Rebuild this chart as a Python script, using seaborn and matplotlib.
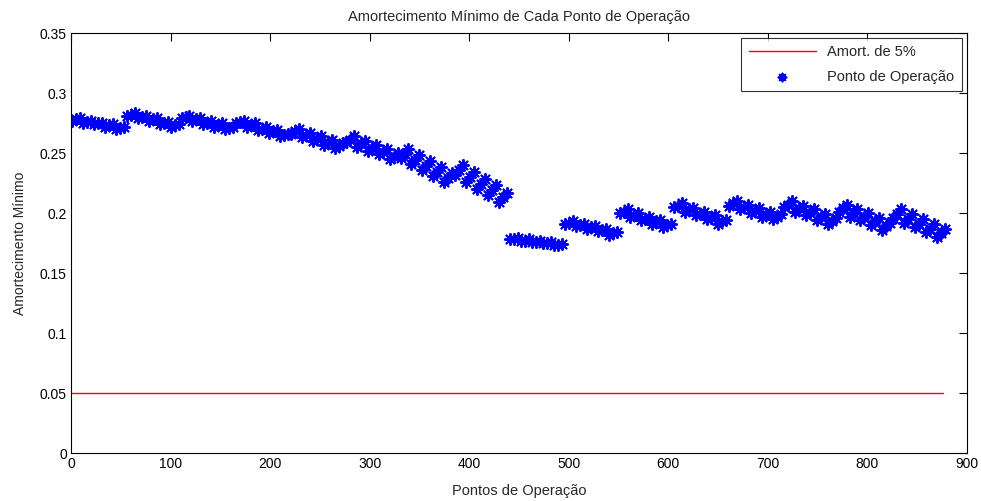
import numpy as np
import matplotlib
matplotlib.use("Agg")
import matplotlib.pyplot as plt
import seaborn as sns

# minimum damping of each operating point, read per block of 55 points
# (5 sub-groups per block, 3 readings per sub-group)
seg01 = [.277, .278, .279, .275, .276, .277, .274, .275, .275, .272, .273, .274, .270, .271, .272]
seg02 = [.281, .282, .283, .279, .280, .281, .277, .278, .279, .274, .275, .276, .272, .273, .274]
seg03 = [.279, .280, .281, .277, .278, .279, .274, .275, .277, .272, .273, .275, .270, .271, .272]
seg04 = [.275, .276, .277, .272, .273, .275, .269, .270, .272, .267, .268, .269, .264, .265, .266]
seg05 = [.266, .268, .270, .263, .265, .267, .260, .262, .264, .257, .259, .261, .254, .256, .258]
seg06 = [.259, .261, .264, .255, .258, .260, .252, .254, .257, .249, .251, .253, .245, .247, .250]
seg07 = [.246, .249, .253, .241, .244, .248, .236, .239, .243, .231, .234, .238, .226, .229, .233]
seg08 = [.232, .236, .240, .226, .230, .234, .220, .224, .228, .215, .219, .223, .209, .213, .217]
seg09 = [.178, .178, .179, .177, .177, .178, .176, .176, .177, .175, .175, .176, .173, .173, .174]
seg10 = [.191, .192, .193, .189, .190, .191, .187, .188, .189, .185, .186, .187, .182, .183, .184]
seg11 = [.200, .201, .203, .197, .198, .200, .194, .195, .197, .191, .193, .194, .188, .190, .191]
seg12 = [.205, .206, .208, .201, .203, .204, .198, .199, .201, .195, .196, .198, .191, .193, .194]
seg13 = [.206, .208, .210, .203, .205, .207, .200, .202, .204, .197, .199, .201, .195, .197, .199]
seg14 = [.205, .207, .210, .201, .204, .206, .198, .200, .203, .194, .197, .199, .191, .193, .196]
seg15 = [.201, .204, .207, .197, .200, .203, .194, .197, .200, .190, .193, .196, .186, .189, .192]
seg16 = [.196, .199, .203, .192, .195, .199, .188, .191, .195, .184, .187, .191, .180, .183, .187]

segs = [seg01, seg02, seg03, seg04, seg05, seg06, seg07, seg08,
        seg09, seg10, seg11, seg12, seg13, seg14, seg15, seg16]

ref_x = [0, 876]
ref_y = [0.05, 0.05]

yticks = [0, 0.05, 0.1, 0.15, 0.2, 0.25, 0.3, 0.35]
ytick_labels = ['0', '0.05', '0.1', '0.15', '0.2', '0.25', '0.3', '0.35']
xticks = [0, 100, 200, 300, 400, 500, 600, 700, 800, 900]

# point number of each reading: block of 55, sub-group of 11, every 4th point
xs, ys = [], []
for i, seg in enumerate(segs):
    for j, v in enumerate(seg):
        xs.append(1 + 55 * i + 11 * (j // 3) + 4 * (j % 3))
        ys.append(v)

sns.set_style('white')
plt.rcParams['font.family'] = ['Liberation Sans', 'DejaVu Sans']

fig = plt.figure(figsize=(9.81, 5.01), dpi=100)
ax = fig.add_axes([0.0724, 0.0958, 0.9133, 0.8383])

sns.lineplot(x=ref_x, y=ref_y, color='red', linewidth=1, ax=ax, label='Amort. de 5%')
sns.scatterplot(x=xs, y=ys, marker=(8, 2, 0), color='blue', s=65, linewidth=1.4,
                ax=ax, label='Ponto de Operação')

ax.set_xlim(0, 900)
ax.set_ylim(0, 0.35)
ax.set_xticks(xticks)
ax.set_xticklabels([str(t) for t in xticks], fontsize=10)
ax.set_yticks(yticks)
ax.set_yticklabels(ytick_labels, fontsize=10)
ax.tick_params(direction='in', length=6, width=0.8, top=True, right=True,
               colors='black', pad=3)
for sp in ax.spines.values():
    sp.set_color('black')
    sp.set_linewidth(0.8)

ax.set_title('Amortecimento Mínimo de Cada Ponto de Operação', fontsize=10.5, pad=9)
ax.set_xlabel('Pontos de Operação', fontsize=10.5, labelpad=9)
ax.set_ylabel('Amortecimento Mínimo', fontsize=10, labelpad=9)

leg = ax.legend(loc='upper right', fontsize=10.5, frameon=True, fancybox=False,
                edgecolor='black', borderpad=0.5, handlelength=4.6, labelspacing=0.7,
                borderaxespad=0.35, markerscale=0.7)
leg.get_frame().set_linewidth(0.8)

fig.savefig('out.png', dpi=100)
